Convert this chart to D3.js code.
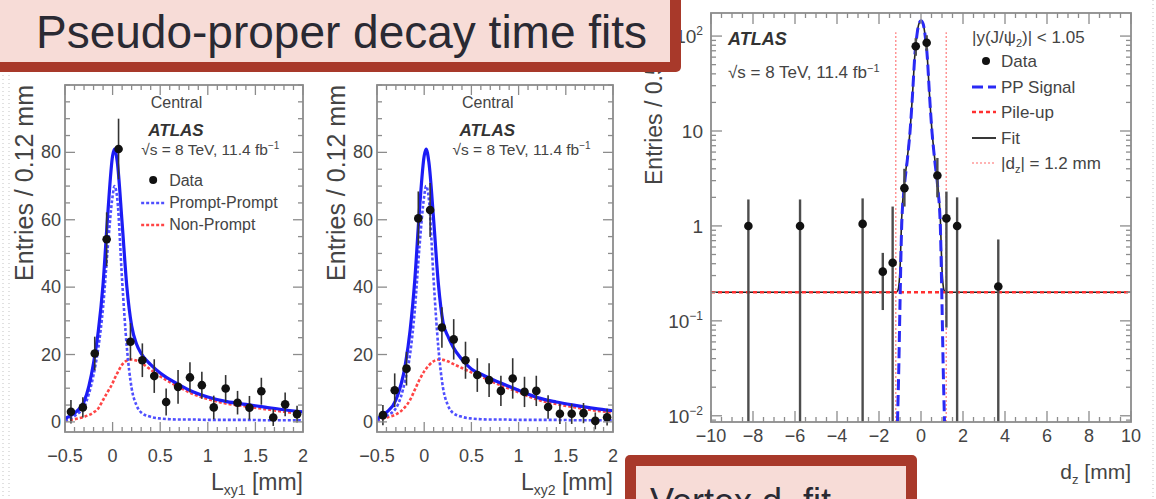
<!DOCTYPE html>
<html>
<head>
<meta charset="utf-8">
<script src="https://cdn.jsdelivr.net/npm/d3@7"></script>
<style>
  body { margin: 0; background: #fff; }
  svg { display: block; font-family: "Liberation Sans", Arial, sans-serif; }
</style>
</head>
<body>
<svg id="chart" width="1156" height="499"></svg>
<script>
/* ---- data ---- */
// L_xy histograms: bin centres (0.125 mm bins), counts and errors
var binCentres = [-0.4375,-0.3125,-0.1875,-0.0625,0.0625,0.1875,0.3125,0.4375,0.5625,0.6875,
                  0.8125,0.9375,1.0625,1.1875,1.3125,1.4375,1.5625,1.6875,1.8125,1.9375];
var binHalf = 0.0625;
var lxy1Counts = [3.0,4.3,20.3,54.2,81,23.8,18.3,13.6,5.9,10.4,13.2,10.9,4.3,9.9,5.7,4.2,9.1,1.3,5.2,2.3];
var lxy1Errors = [3.5,3.0,5.0,8.0,9.0,5.5,5.0,5.0,4.0,5.0,4.5,4.0,3.5,4.0,3.5,3.5,4.0,2.5,3.5,2.5];
var lxy2Counts = [2.0,9.4,15.8,60.4,62.9,28.0,24.5,18.3,13.9,12.4,9.2,12.9,8.9,9.2,4.4,2.4,2.4,2.6,0.3,1.4];
var lxy2Errors = [3.0,5.0,5.0,8.0,8.0,6.0,6.0,5.5,5.0,5.0,4.5,6.0,4.5,4.5,3.5,3.0,3.0,3.0,2.5,2.5];

// fit curves sampled along L_xy
var fitGrid = [-0.5,-0.4,-0.3,-0.2,-0.15,-0.1,-0.05,0,0.02,0.05,0.1,0.15,0.2,0.25,0.3,0.4,0.5,0.6,0.7,0.85,1.0,1.2,1.4,1.6,1.8,2.0];
var total1 = [1.0,2.6,6.0,17.5,27,41,62,79,81,77,59,40,28.5,23.2,20.3,17,14.5,12.6,11,8.9,7.4,6.0,5.2,4.4,3.6,3.0];
var prompt1 = [0.4,1.8,4.5,14,22,34,52,67,70,66,42,22,10,5,2.8,1.5,1.0,0.8,0.7,0.7,0.6,0.6,0.6,0.5,0.5,0.5];
var nonPrompt1 = [0.4,0.8,1.5,2.8,4,6.5,9,11.5,12.8,14.5,17,18.2,18.5,18.2,17.5,15.5,13.5,11.8,10.3,8.2,6.8,5.4,4.6,3.8,3.0,2.4];
var total2 = [0.9,2.8,6.5,17,27,42,63,79,81,77,60,41,29.5,25.5,22.5,18.5,15.7,14.2,12.9,11.1,9.4,7.2,5.9,4.9,4.0,3.3];
var prompt2 = [0.4,1.8,4.0,12.5,20,33,52,67,70,66,42,22,10,5,2.8,1.5,1.0,0.8,0.7,0.7,0.6,0.6,0.6,0.5,0.5,0.5];
var nonPrompt2 = [0.4,1.3,2.2,4.5,6.5,9.5,12.5,15,15.8,16.8,18,18.5,18.4,18,17.3,16,14.7,13.5,12.2,10.4,8.8,6.6,5.3,4.3,3.4,2.8];

var lxyTicksX = [-0.5,0,0.5,1,1.5,2];
var lxyTicksY = [0,20,40,60,80];

// vertex d_z fit (log scale)
var dzX = [-8.22,-5.76,-2.78,-1.82,-1.35,-0.79,-0.25,0.27,0.78,1.21,1.72,3.68];
var dzY = [1.0,1.0,1.05,0.33,0.41,2.5,78,85,3.4,1.2,1.0,0.23];
var dzLo = [0,0,0,0.13,0,1.6,62,70,2.0,0.085,0,0];
var dzHi = [1.9,1.9,1.95,0.52,1.6,4.0,95,102,5.2,2.3,2.0,0.72];
var sigX = [-1.12,-1.06,-1.0,-0.92,-0.8,-0.65,-0.52,-0.4,-0.3,-0.2,-0.1,0,0.1,0.2,0.3,0.4,0.52,0.65,0.8,0.92,1.0,1.06,1.12];
var sigY = [0.0086,0.03,0.15,1,2.5,5,10,25,60,100,135,145,135,100,60,25,10,5,2.5,1,0.15,0.03,0.0086];
var fitX = [-10,-1.2,-1.1,-1.0,-0.92,-0.8,-0.65,-0.52,-0.4,-0.3,-0.2,-0.1,0,0.1,0.2,0.3,0.4,0.52,0.65,0.8,0.92,1.0,1.1,1.2,10];
var fitY = [0.2,0.2,0.21,0.35,1.2,2.7,5.2,10.2,25.2,60,100,135,145,135,100,60,25.2,10.2,5.2,2.7,1.2,0.35,0.21,0.2,0.2];
var pileUp = 0.2;
var dzCut = 1.2;
var dzTicksX = [-10,-8,-6,-4,-2,0,2,4,6,8,10];
var dzTicksY = [0.01,0.1,1,10,100];

var svg = d3.select("#chart");

// faint slide texture at the edges
[3, 9].forEach(function (xx) {
  svg.append("line").attr("x1", xx).attr("x2", xx).attr("y1", 75).attr("y2", 499)
    .attr("stroke", "#d8d8d8").attr("stroke-width", 1.5).attr("stroke-dasharray", "1,3");
});
svg.append("line").attr("x1", 1153).attr("x2", 1153).attr("y1", 0).attr("y2", 499)
  .attr("stroke", "#d8d8d8").attr("stroke-width", 1.5).attr("stroke-dasharray", "1,3");

var frameColor = "#8c8c8c";
var textColor = "#444";

// ROOT-like frame with ticks on all four sides
function drawFrame(g, x, y, xMaj, xMin, yMaj, yMin, majLen, minLen) {
  var x0 = x.range()[0], x1 = x.range()[1], yb = y.range()[0], yt = y.range()[1];
  var t = g.append("g").attr("stroke", frameColor).attr("stroke-width", 1.3);
  xMin.forEach(function (v) {
    var L = xMaj.indexOf(v) >= 0 ? majLen : minLen;
    t.append("line").attr("x1", x(v)).attr("x2", x(v)).attr("y1", yb).attr("y2", yb - L);
    t.append("line").attr("x1", x(v)).attr("x2", x(v)).attr("y1", yt).attr("y2", yt + L);
  });
  yMin.forEach(function (v) {
    var L = yMaj.indexOf(v) >= 0 ? majLen : minLen;
    t.append("line").attr("y1", y(v)).attr("y2", y(v)).attr("x1", x0).attr("x2", x0 + L);
    t.append("line").attr("y1", y(v)).attr("y2", y(v)).attr("x1", x1).attr("x2", x1 - L);
  });
  g.append("rect").attr("x", x0).attr("y", yt).attr("width", x1 - x0).attr("height", yb - yt)
    .attr("fill", "none").attr("stroke", frameColor).attr("stroke-width", 1.8);
}

function lxyPanel(x, y, counts, errors, total, prompt, nonPrompt, sub, withLegend, yLabelX) {
  var g = svg.append("g");
  var x0 = x.range()[0], x1 = x.range()[1], yb = y.range()[0], yt = y.range()[1];
  var id = "clip" + sub;
  g.append("clipPath").attr("id", id).append("rect")
    .attr("x", x0).attr("y", yt).attr("width", x1 - x0).attr("height", yb - yt);
  g.append("rect").attr("x", x0).attr("y", yt).attr("width", x1 - x0).attr("height", yb - yt).attr("fill", "#fff");

  var line = function (vals) {
    return d3.line().x(function (d, i) { return x(fitGrid[i]); })
      .y(function (d) { return y(d); }).curve(d3.curveMonotoneX)(vals);
  };
  var c = g.append("g").attr("clip-path", "url(#" + id + ")");
  c.append("path").attr("d", line(nonPrompt)).attr("fill", "none")
    .attr("stroke", "#ff4545").attr("stroke-width", 2.6).attr("stroke-dasharray", "3,2");
  c.append("path").attr("d", line(prompt)).attr("fill", "none")
    .attr("stroke", "#4f4fff").attr("stroke-width", 2.6).attr("stroke-dasharray", "3,2");
  c.append("path").attr("d", line(total)).attr("fill", "none")
    .attr("stroke", "#1c1cf5").attr("stroke-width", 3.2);

  // data points with error bars
  var pts = c.selectAll("g.pt").data(counts).enter().append("g");
  pts.append("line")
    .attr("x1", function (d, i) { return x(binCentres[i]); })
    .attr("x2", function (d, i) { return x(binCentres[i]); })
    .attr("y1", function (d, i) { return y(d - errors[i]); })
    .attr("y2", function (d, i) { return y(d + errors[i]); })
    .attr("stroke", "#333").attr("stroke-width", 1.6);
  pts.append("line")
    .attr("x1", function (d, i) { return x(binCentres[i] - binHalf * 0.6); })
    .attr("x2", function (d, i) { return x(binCentres[i] + binHalf * 0.6); })
    .attr("y1", function (d) { return y(d); })
    .attr("y2", function (d) { return y(d); })
    .attr("stroke", "#111").attr("stroke-width", 2);
  pts.append("circle")
    .attr("cx", function (d, i) { return x(binCentres[i]); })
    .attr("cy", function (d) { return y(d); })
    .attr("r", 4.3).attr("fill", "#111");

  drawFrame(g, x, y, lxyTicksX, x.ticks(25), lxyTicksY, y.ticks(20).filter(function (v) { return v >= -3; }), 10, 5);

  // tick labels
  g.selectAll("text.xt").data(lxyTicksX).enter().append("text")
    .attr("x", function (d) { return x(d); }).attr("y", 462)
    .attr("text-anchor", "middle").attr("font-size", 18).attr("fill", textColor)
    .text(function (d) { return d3.format("")(d); });
  g.selectAll("text.yt").data(lxyTicksY).enter().append("text")
    .attr("x", x0 - 4).attr("y", function (d) { return y(d) + 6; })
    .attr("text-anchor", "end").attr("font-size", 18).attr("fill", textColor)
    .text(function (d) { return d; });

  // axis titles
  var xl = g.append("text").attr("x", x1).attr("y", 490).attr("text-anchor", "end")
    .attr("font-size", 23).attr("fill", textColor);
  xl.append("tspan").text("L");
  xl.append("tspan").attr("font-size", 14).attr("dy", 5).text("xy" + sub);
  xl.append("tspan").attr("dy", -5).text(" [mm]");
  g.append("text").attr("transform", "translate(" + yLabelX + "," + yt + ") rotate(-90)")
    .attr("text-anchor", "end").attr("font-size", 25).attr("fill", textColor)
    .text("Entries / 0.12 mm");

  // labels inside the frame
  g.append("text").attr("x", x0 + (x1 - x0) * 0.36).attr("y", 108).attr("font-size", 16).attr("fill", textColor).text("Central");
  g.append("text").attr("x", x0 + (x1 - x0) * 0.35).attr("y", 136).attr("font-size", 17)
    .attr("font-weight", "bold").attr("font-style", "italic").attr("fill", "#333").text("ATLAS");
  var rs = g.append("text").attr("x", x0 + (x1 - x0) * 0.32).attr("y", 155).attr("font-size", 15.5).attr("fill", textColor);
  rs.append("tspan").text("√s = 8 TeV, 11.4 fb");
  rs.append("tspan").attr("font-size", 10).attr("dy", -6).text("−1");

  if (withLegend) {
    var lx = x0 + (x1 - x0) * 0.32;
    g.append("circle").attr("cx", lx + 12).attr("cy", 180).attr("r", 4).attr("fill", "#111");
    g.append("text").attr("x", lx + 28).attr("y", 186).attr("font-size", 16).attr("fill", textColor).text("Data");
    g.append("line").attr("x1", lx).attr("x2", lx + 25).attr("y1", 203).attr("y2", 203)
      .attr("stroke", "#4f4fff").attr("stroke-width", 2.4).attr("stroke-dasharray", "3,2");
    g.append("text").attr("x", lx + 28).attr("y", 208).attr("font-size", 16).attr("fill", textColor).text("Prompt-Prompt");
    g.append("line").attr("x1", lx).attr("x2", lx + 25).attr("y1", 225).attr("y2", 225)
      .attr("stroke", "#ff4545").attr("stroke-width", 2.4).attr("stroke-dasharray", "3,2");
    g.append("text").attr("x", lx + 28).attr("y", 230).attr("font-size", 16).attr("fill", textColor).text("Non-Prompt");
  }
}

var x1s = d3.scaleLinear().domain([-0.5, 2]).range([65, 303]);
var y1s = d3.scaleLinear().domain([-3, 100]).range([432, 85]);
var x2s = d3.scaleLinear().domain([-0.5, 2]).range([377, 613]);
lxyPanel(x1s, y1s, lxy1Counts, lxy1Errors, total1, prompt1, nonPrompt1, "1", true, 33);
lxyPanel(x2s, y1s, lxy2Counts, lxy2Errors, total2, prompt2, nonPrompt2, "2", false, 345);

/* ---- vertex d_z panel ---- */
var x3 = d3.scaleLinear().domain([-10, 10]).range([711, 1131]);
var y3 = d3.scaleLog().domain([0.0086, 175]).range([422, 13]);
var g3 = svg.append("g");
var X0 = 711, X1 = 1131, YB = 422, YT = 13;
g3.append("clipPath").attr("id", "clip3").append("rect")
  .attr("x", X0).attr("y", YT).attr("width", X1 - X0).attr("height", YB - YT);
var c3 = g3.append("g").attr("clip-path", "url(#clip3)");

// |d_z| window lines
[-dzCut, dzCut].forEach(function (v) {
  c3.append("line").attr("x1", x3(v)).attr("x2", x3(v)).attr("y1", y3(0.0086)).attr("y2", y3(110))
    .attr("stroke", "#ff7a7a").attr("stroke-width", 1.2).attr("stroke-dasharray", "2,2");
});

var logLine = function (xs) {
  return d3.line().x(function (d, i) { return x3(xs[i]); }).y(function (d) { return y3(d); })
    .curve(d3.curveMonotoneX);
};
c3.append("path").attr("d", logLine(fitX)(fitY)).attr("fill", "none")
  .attr("stroke", "#222").attr("stroke-width", 1.6);
c3.append("line").attr("x1", x3(-10)).attr("x2", x3(10)).attr("y1", y3(pileUp)).attr("y2", y3(pileUp))
  .attr("stroke", "#ff3030").attr("stroke-width", 2.6).attr("stroke-dasharray", "4,3");
c3.append("path").attr("d", logLine(sigX)(sigY)).attr("fill", "none")
  .attr("stroke", "#2a2af5").attr("stroke-width", 3).attr("stroke-dasharray", "11,5");

var ymin = y3.domain()[0];
var dp = c3.selectAll("g.dz").data(dzY).enter().append("g");
dp.append("line")
  .attr("x1", function (d, i) { return x3(dzX[i]); })
  .attr("x2", function (d, i) { return x3(dzX[i]); })
  .attr("y1", function (d, i) { return y3(Math.max(dzLo[i], ymin)); })
  .attr("y2", function (d, i) { return y3(dzHi[i]); })
  .attr("stroke", "#4d4d4d").attr("stroke-width", 2.4);
dp.append("circle")
  .attr("cx", function (d, i) { return x3(dzX[i]); })
  .attr("cy", function (d) { return y3(d); })
  .attr("r", 4.3).attr("fill", "#111");

var logMinor = y3.ticks().filter(function (v) { return v >= ymin; });
drawFrame(g3, x3, y3, dzTicksX, x3.ticks(40), dzTicksY, logMinor, 11, 5);

g3.selectAll("text.xt").data(dzTicksX).enter().append("text")
  .attr("x", function (d) { return x3(d); }).attr("y", 442)
  .attr("text-anchor", "middle").attr("font-size", 18).attr("fill", textColor)
  .text(function (d) { return d3.format("")(d); });
var yLabs = [["10", "−2"], ["10", "−1"], ["1", ""], ["10", ""], ["10", "2"]];
dzTicksY.forEach(function (v, i) {
  var t = g3.append("text").attr("x", X0 - 8).attr("y", y3(v) + 7).attr("text-anchor", "end")
    .attr("font-size", 19).attr("fill", textColor);
  t.append("tspan").text(yLabs[i][0]);
  if (yLabs[i][1]) t.append("tspan").attr("font-size", 12).attr("dy", -8).text(yLabs[i][1]);
});
var dzl = g3.append("text").attr("x", X1).attr("y", 479).attr("text-anchor", "end")
  .attr("font-size", 21).attr("fill", textColor);
dzl.append("tspan").text("d");
dzl.append("tspan").attr("font-size", 13).attr("dy", 5).text("z");
dzl.append("tspan").attr("dy", -5).text(" [mm]");
g3.append("text").attr("transform", "translate(662,185) rotate(-90)")
  .attr("font-size", 23).attr("fill", textColor).text("Entries / 0.5 mm");

g3.append("text").attr("x", 728).attr("y", 45).attr("font-size", 18)
  .attr("font-weight", "bold").attr("font-style", "italic").attr("fill", "#333").text("ATLAS");
var rs3 = g3.append("text").attr("x", 728).attr("y", 78).attr("font-size", 17).attr("fill", textColor);
rs3.append("tspan").text("√s = 8 TeV, 11.4 fb");
rs3.append("tspan").attr("font-size", 11).attr("dy", -6).text("−1");

// legend
var LX = 972, TX = 1001, LF = 17;
var ly = g3.append("text").attr("x", LX).attr("y", 43).attr("font-size", LF).attr("fill", textColor);
ly.append("tspan").text("|y(J/ψ");
ly.append("tspan").attr("font-size", 11).attr("dy", 4).text("2");
ly.append("tspan").attr("dy", -4).text(")| < 1.05");
g3.append("circle").attr("cx", 986).attr("cy", 61).attr("r", 4).attr("fill", "#111");
g3.append("text").attr("x", TX).attr("y", 67).attr("font-size", LF).attr("fill", textColor).text("Data");
g3.append("line").attr("x1", LX).attr("x2", LX + 24).attr("y1", 87).attr("y2", 87)
  .attr("stroke", "#2a2af5").attr("stroke-width", 3).attr("stroke-dasharray", "11,5");
g3.append("text").attr("x", TX).attr("y", 93).attr("font-size", LF).attr("fill", textColor).text("PP Signal");
g3.append("line").attr("x1", LX).attr("x2", LX + 24).attr("y1", 112).attr("y2", 112)
  .attr("stroke", "#ff3030").attr("stroke-width", 2.6).attr("stroke-dasharray", "4,3");
g3.append("text").attr("x", TX).attr("y", 118).attr("font-size", LF).attr("fill", textColor).text("Pile-up");
g3.append("line").attr("x1", LX).attr("x2", LX + 24).attr("y1", 138).attr("y2", 138)
  .attr("stroke", "#222").attr("stroke-width", 1.8);
g3.append("text").attr("x", TX).attr("y", 144).attr("font-size", LF).attr("fill", textColor).text("Fit");
g3.append("line").attr("x1", LX).attr("x2", LX + 24).attr("y1", 163).attr("y2", 163)
  .attr("stroke", "#ff9a9a").attr("stroke-width", 1.4).attr("stroke-dasharray", "2,2");
var ld = g3.append("text").attr("x", TX).attr("y", 169).attr("font-size", LF).attr("fill", textColor);
ld.append("tspan").text("|d");
ld.append("tspan").attr("font-size", 11).attr("dy", 4).text("z");
ld.append("tspan").attr("dy", -4).text("| = 1.2 mm");

/* ---- slide title boxes ---- */
var boxRed = "#a8392a", boxFill = "#f7dcd7", boxText = "#2a2a33";
svg.append("rect").attr("x", -20).attr("y", -20).attr("width", 701).attr("height", 92)
  .attr("rx", 5).attr("fill", boxRed);
svg.append("rect").attr("x", -20).attr("y", -20).attr("width", 690).attr("height", 82).attr("fill", boxFill);
svg.append("text").attr("x", 36).attr("y", 48).attr("font-size", 46).attr("fill", boxText)
  .text("Pseudo-proper decay time fits");

svg.append("rect").attr("x", 625).attr("y", 455).attr("width", 292).attr("height", 80)
  .attr("rx", 5).attr("fill", boxRed);
svg.append("rect").attr("x", 636).attr("y", 466).attr("width", 270).attr("height", 60).attr("fill", boxFill);
var vt = svg.append("text").attr("y", 514).attr("font-size", 36).attr("fill", boxText);
vt.append("tspan").attr("x", 650).text("Vertex d");
vt.append("tspan").attr("font-size", 22).attr("dy", -2).text("z");
vt.append("tspan").attr("dy", 2).text(" fit");
</script>
</body>
</html>
